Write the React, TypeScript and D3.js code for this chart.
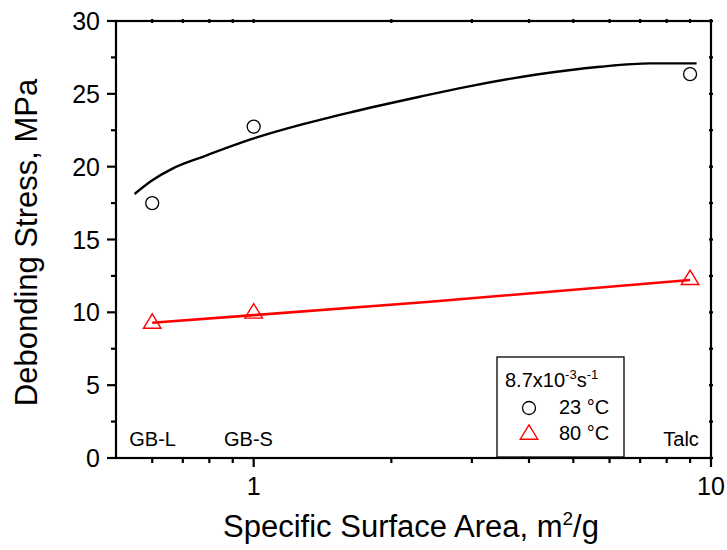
import React from "react";
import * as d3 from "d3";

// Measured points
const materials = ["GB-L", "GB-S", "Talc"];
const surfaceArea = [0.6, 1.0, 9.0];
const stress23 = [17.5, 22.75, 26.35];
const stress80 = [9.4, 10.1, 12.4];

// Fitted curves
const fit23X = [0.549, 0.597, 0.666, 0.774, 1.0, 1.282, 1.649, 2.307, 2.92, 4.09, 5.72, 7.36, 9.3];
const fit23Y = [18.12, 19.01, 19.88, 20.68, 21.94, 22.92, 23.77, 24.8, 25.48, 26.29, 26.86, 27.09, 27.09];
const fit80X = [0.6, 1.0, 2.43, 9.0];
const fit80Y = [9.29, 9.81, 10.73, 12.22];

const yTicks = [0, 5, 10, 15, 20, 25, 30];
const yMinorTicks = [2.5, 7.5, 12.5, 17.5, 22.5, 27.5];
const xTicks = [1, 10];
const xMinorTicks = [0.6, 0.7, 0.8, 0.9, 2, 3, 4, 5, 6, 7, 8, 9];

const W = 727, H = 550;
const L = 116, R = 711, T = 21, B = 458;
const FONT = "'Liberation Sans', Arial, sans-serif";

export default function App() {
  const x = d3.scaleLog().domain([0.5, 10]).range([L, R]);
  const y = d3.scaleLinear().domain([0, 30]).range([B, T]);
  const line = d3.line<[number, number]>().x(d => x(d[0])).y(d => y(d[1])).curve(d3.curveMonotoneX);
  const p23 = line(fit23X.map((v, i) => [v, fit23Y[i]] as [number, number])) || "";
  const p80 = d3.line<[number, number]>().x(d => x(d[0])).y(d => y(d[1]))(fit80X.map((v, i) => [v, fit80Y[i]] as [number, number])) || "";

  const tri = (cx: number, cy: number) => {
    const w = 17.5, h = 14.4;
    return `M${cx},${cy - h / 2}L${cx + w / 2},${cy + h / 2}L${cx - w / 2},${cy + h / 2}Z`;
  };

  const labelPos = [129.3, 224, 663.3];

  return (
    <div style={{ position: "absolute", left: 0, top: 0 }}>
      <svg width={W} height={H} style={{ display: "block", fontFamily: FONT }}>
        <rect x={0} y={0} width={W} height={H} fill="#fff" />
        {/* frame */}
        <rect x={L} y={T} width={R - L} height={B - T} fill="none" stroke="#000" strokeWidth={2.2} />
        {/* y ticks */}
        {yTicks.map(v => (
          <g key={"y" + v}>
            <line x1={L - 9} x2={L} y1={y(v)} y2={y(v)} stroke="#000" strokeWidth={2.2} />
            <line x1={R - 2} x2={R + 2} y1={y(v)} y2={y(v)} stroke="#000" strokeWidth={2.2} />
            <text x={100} y={y(v) + 9} textAnchor="end" fontSize={25}>{v}</text>
          </g>
        ))}
        {yMinorTicks.map(v => (
          <g key={"ym" + v}>
            <line x1={L - 5} x2={L} y1={y(v)} y2={y(v)} stroke="#000" strokeWidth={2.2} />
            <line x1={R - 2} x2={R + 2} y1={y(v)} y2={y(v)} stroke="#000" strokeWidth={2.2} />
          </g>
        ))}
        {/* x ticks */}
        {xTicks.map(v => (
          <g key={"x" + v}>
            <line x1={x(v)} x2={x(v)} y1={B} y2={B + 9} stroke="#000" strokeWidth={2.2} />
            <line x1={x(v)} x2={x(v)} y1={T - 2} y2={T + 2} stroke="#000" strokeWidth={2.2} />
            <text x={x(v)} y={495} textAnchor="middle" fontSize={25}>{v}</text>
          </g>
        ))}
        {xMinorTicks.map(v => (
          <g key={"xm" + v}>
            <line x1={x(v)} x2={x(v)} y1={B} y2={B + 5} stroke="#000" strokeWidth={2.2} />
            <line x1={x(v)} x2={x(v)} y1={T - 2} y2={T + 2} stroke="#000" strokeWidth={2.2} />
          </g>
        ))}
        {/* axis titles */}
        <text x={411} y={537} textAnchor="middle" fontSize={31}>
          Specific Surface Area, m<tspan dy={-12} fontSize={19}>2</tspan><tspan dy={12}>/g</tspan>
        </text>
        <text transform={`translate(37,${(T + B) / 2 + 3}) rotate(-90)`} textAnchor="middle" fontSize={31}>
          Debonding Stress, MPa
        </text>
        {/* fits */}
        <path d={p23} fill="none" stroke="#000" strokeWidth={2.4} />
        <path d={p80} fill="none" stroke="#ff0000" strokeWidth={2.6} />
        {/* markers */}
        {surfaceArea.map((v, i) => (
          <circle key={"c" + i} cx={x(v)} cy={y(stress23[i])} r={6.5} fill="none" stroke="#000" strokeWidth={1.3} />
        ))}
        {surfaceArea.map((v, i) => (
          <path key={"t" + i} d={tri(x(v), y(stress80[i]))} fill="none" stroke="#ff0000" strokeWidth={1.4} />
        ))}
        {/* material labels */}
        {materials.map((m, i) => (
          <text key={m} x={labelPos[i]} y={446} fontSize={20}>{m}</text>
        ))}
        {/* legend */}
        <rect x={497} y={357} width={127} height={100} fill="#fff" stroke="#000" strokeWidth={1.3} />
        <text x={505} y={387} fontSize={20}>
          8.7x10<tspan dy={-8} fontSize={13}>-3</tspan><tspan dy={8}>s</tspan><tspan dy={-8} fontSize={13}>-1</tspan>
        </text>
        <circle cx={529} cy={408} r={6.5} fill="none" stroke="#000" strokeWidth={1.3} />
        <text x={559} y={414} fontSize={20}>23 °C</text>
        <path d={tri(529, 432)} fill="none" stroke="#ff0000" strokeWidth={1.4} />
        <text x={559} y={440} fontSize={20}>80 °C</text>
      </svg>
    </div>
  );
}
